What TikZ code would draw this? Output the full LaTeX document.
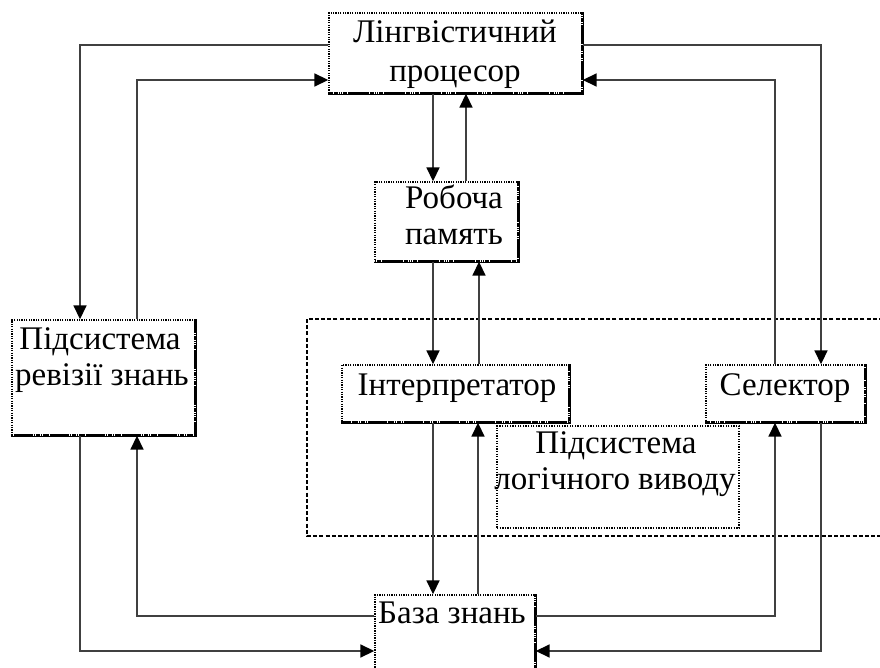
\documentclass[tikz,border=0pt]{standalone}
\usepackage{fontspec}
\setmainfont{Liberation Serif}
\usetikzlibrary{arrows.meta}

% right and bottom edges of a shadowed box
\newcommand\boxshadow[1]{%
  \draw[line width=1.2pt]
    ([xshift=0.6pt]#1.north east) -- ([xshift=0.6pt,yshift=-0.6pt]#1.south east) -- ([yshift=-0.6pt]#1.south west);
  \draw[line width=2.8pt, dash pattern=on 1.2pt off 0.6pt, line cap=butt]
    (#1.north east) -- (#1.south east) -- (#1.south west);}

\begin{document}
\begin{tikzpicture}[x=1pt,y=-1pt,
  box/.style={draw, line width=1.4pt, dash pattern=on 1.3pt off 1.1pt,
    fill=white, inner sep=0pt},
  thinbox/.style={draw, line width=1.1pt, dash pattern=on 1.3pt off 1.3pt,
    inner sep=0pt},
  frame/.style={draw, line width=1.2pt, dash pattern=on 4pt off 2.2pt},
  lbl/.style={anchor=base, inner sep=0pt, font=\fontsize{33}{39}\selectfont},
  link/.style={draw=black!75, line width=1.7pt},
  arr/.style={link, -{Triangle[length=14pt,width=13pt,color=black]}}]

\path[use as bounding box] (0,0) rectangle (880,668);
\clip (0,0) rectangle (880,668);
\fill[white] (0,0) rectangle (880,668);

% outer dashed frame of the inference subsystem
\draw[frame] (307,319) rectangle (905,536);

% boxes
\node[box, minimum width=253pt, minimum height=80pt] (lp) at (455.5,53) {};
\node[box, minimum width=143pt, minimum height=79pt] (rm) at (446.5,221.5) {};
\node[box, minimum width=183pt, minimum height=115pt] (rev) at (103.5,377.5) {};
\node[box, minimum width=227pt, minimum height=57pt] (int) at (455.5,393.5) {};
\node[box, minimum width=159pt, minimum height=57pt] (sel) at (785.5,393.5) {};
\node[thinbox, minimum width=242pt, minimum height=102pt] (lv) at (618,477) {};
\node[box, minimum width=160pt, minimum height=120pt] (bz) at (455,655) {};
\boxshadow{lp}
\boxshadow{rm}
\boxshadow{rev}
\boxshadow{int}
\boxshadow{sel}
\boxshadow{bz}

% labels
\node[lbl] (lpa) at (455,43) {Лінгвістичний};
\node[lbl] (lpb) at (455,82) {процесор};
\node[lbl] (rma) at (454,209) {Робоча};
\node[lbl] (rmb) at (454,245) {память};
\node[lbl] (reva) at (100,349) {Підсистема};
\node[lbl] (revb) at (102,385) {ревізії знань};
\node[lbl] (inta) at (457,395) {Інтерпретатор};
\node[lbl] (sela) at (785,395) {Селектор};
\node[lbl] (lva) at (616,453) {Підсистема};
\node[lbl] (lvb) at (615,489) {логічного виводу};
\node[lbl] (bza) at (452,623) {База знань};

% linguistic processor <-> knowledge revision subsystem
\draw[arr] (lp.west |- 0,45) -| (80,0 |- rev.north);
\draw[arr] (137,0 |- rev.north) |- (lp.west |- 0,80);
% linguistic processor <-> selector
\draw[arr] (lp.east |- 0,45) -| (821,0 |- sel.north);
\draw[arr] (775,0 |- sel.north) |- (lp.east |- 0,80);
% linguistic processor <-> working memory
\draw[arr] (433,0 |- lp.south) -- (433,0 |- rm.north);
\draw[arr] (466,0 |- rm.north) -- (466,0 |- lp.south);
% working memory <-> interpreter
\draw[arr] (433,0 |- rm.south) -- (433,0 |- int.north);
\draw[arr] (479,0 |- int.north) -- (479,0 |- rm.south);
% interpreter <-> knowledge base
\draw[arr] (433,0 |- int.south) -- (433,0 |- bz.north);
\draw[arr] (478,0 |- bz.north) -- (478,0 |- int.south);
% selector <-> knowledge base
\draw[arr] (821,0 |- sel.south) |- (bz.east |- 0,651);
\draw[arr] (bz.east |- 0,616) -| (775,0 |- sel.south);
% knowledge revision subsystem <-> knowledge base
\draw[arr] (80,0 |- rev.south) |- (bz.west |- 0,651);
\draw[arr] (bz.west |- 0,616) -| (137,0 |- rev.south);
\end{tikzpicture}
\end{document}
